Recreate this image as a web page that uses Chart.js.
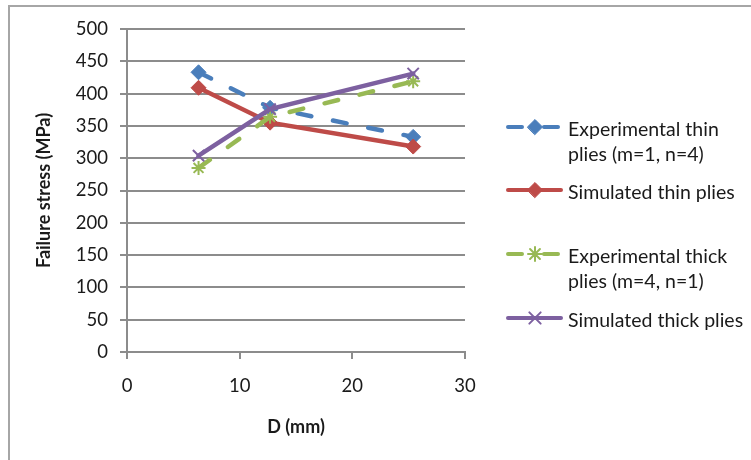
<!DOCTYPE html>
<html>
<head>
<meta charset="utf-8">
<script src="https://cdn.jsdelivr.net/npm/chart.js@4/dist/chart.umd.min.js"></script>
<style>
html, body { margin: 0; padding: 0; background: #fff; overflow: hidden; }
#wrap { position: relative; width: 751px; height: 460px; }
#frame { position: absolute; left: 8px; top: 5px; width: 780px; height: 490px;
         border-top: 2px solid #a6a6a6; border-left: 2px solid #a6a6a6; pointer-events: none; }
canvas { position: absolute; left: 0; top: 0; }
</style>
</head>
<body>
<div id="wrap">
  <canvas id="chart" width="751" height="460"></canvas>
  <div id="frame"></div>
</div>
<script>
// data
const diameters = [6.35, 12.7, 25.4];          // D (mm)
const expThin = [433, 378, 333];                // Experimental thin plies
const simThin = [409, 355, 318];                // Simulated thin plies
const expThick = [285, 364, 419];               // Experimental thick plies
const simThick = [304, 376, 431];               // Simulated thick plies
const seriesNames = [
    ['Experimental thin', 'plies (m=1, n=4)'],
    ['Simulated thin plies'],
    ['Experimental thick', 'plies (m=4, n=1)'],
    ['Simulated thick plies']
];
const xTitle = 'D (mm)';
const yTitle = 'Failure stress (MPa)';

const FONT = 'Lato, "Open Sans", sans-serif';
const gridGray = '#8c8c8c';

function toPoints(values) {
    return values.map((v, i) => ({ x: diameters[i], y: v }));
}

const datasets = [
    { label: seriesNames[0].join(' '), data: toPoints(expThin), borderColor: '#4A7EBB', backgroundColor: '#4A7EBB',
      borderDash: [14, 22], pointStyle: 'rectRot', pointRadius: 7.5, pointBorderWidth: 1, order: 3 },
    { label: seriesNames[1].join(' '), data: toPoints(simThin), borderColor: '#BE4B48', backgroundColor: '#BE4B48',
      borderDash: [], pointStyle: 'rectRot', pointRadius: 7.5, pointBorderWidth: 1, order: 2 },
    { label: seriesNames[2].join(' '), data: toPoints(expThick), borderColor: '#98B954', backgroundColor: '#98B954',
      borderDash: [14, 22], pointStyle: 'star', pointRadius: 7, pointBorderWidth: 2, order: 1 },
    { label: seriesNames[3].join(' '), data: toPoints(simThick), borderColor: '#7D60A0', backgroundColor: '#7D60A0',
      borderDash: [], pointStyle: 'crossRot', pointRadius: 8, pointBorderWidth: 2, order: 0 }
];
datasets.forEach(d => {
    d.borderWidth = 4.5;
    d.borderCapStyle = 'round';
    d.pointBorderColor = d.borderColor;
    d.pointBackgroundColor = d.backgroundColor;
    d.tension = 0;
});

// legend drawn by hand, Excel style (wrapped text on the right)
const sideLegend = {
    id: 'sideLegend',
    afterDraw(chart) {
        const ctx = chart.ctx;
        const rows = [127, 190, 254, 318];
        ctx.save();
        chart.data.datasets.forEach((ds, i) => {
            const y = rows[i];
            ctx.strokeStyle = ds.borderColor;
            ctx.lineWidth = 4;
            ctx.lineCap = 'round';
            ctx.setLineDash(ds.borderDash);
            ctx.beginPath();
            ctx.moveTo(508, y);
            ctx.lineTo(561, y);
            ctx.stroke();
            ctx.setLineDash([]);
            ctx.fillStyle = ds.backgroundColor;
            ctx.lineWidth = ds.pointBorderWidth;
            Chart.helpers.drawPoint(ctx, {
                pointStyle: ds.pointStyle, radius: ds.pointRadius, rotation: 0, borderWidth: ds.pointBorderWidth
            }, 535, y);
            ctx.fillStyle = '#1a1a1a';
            ctx.font = '19.5px ' + FONT;
            ctx.textBaseline = 'middle';
            ctx.textAlign = 'left';
            seriesNames[i].forEach((line, k) => {
                ctx.fillText(line, 568, y + 3 + k * 25);
            });
        });
        ctx.restore();
    }
};

new Chart(document.getElementById('chart'), {
    type: 'line',
    data: { datasets: datasets },
    options: {
        responsive: false,
        animation: false,
        devicePixelRatio: 1,
        layout: { padding: { left: 0, top: 29, right: 286, bottom: 0 } },
        plugins: { legend: { display: false }, tooltip: { enabled: false } },
        scales: {
            x: {
                type: 'linear', min: 0, max: 30,
                afterFit: s => { s.height = 108; },
                ticks: { stepSize: 10, padding: 16, color: '#1a1a1a', font: { family: FONT, size: 18.5 } },
                grid: { drawOnChartArea: false, color: gridGray, lineWidth: 2, tickLength: 7 },
                border: { color: gridGray, width: 2 },
                title: { display: true, text: xTitle, color: '#1a1a1a', padding: { top: 0, bottom: 22 },
                         font: { family: FONT, size: 18, weight: 'bold' } }
            },
            y: {
                min: 0, max: 500,
                afterFit: s => { s.width = 127; },
                ticks: { stepSize: 50, padding: 12, color: '#1a1a1a', font: { family: FONT, size: 18.5 } },
                grid: { color: gridGray, lineWidth: 2, tickLength: 7 },
                border: { color: gridGray, width: 2 },
                title: { display: true, text: yTitle, color: '#1a1a1a', padding: { top: 33, bottom: 0 },
                         font: { family: FONT, size: 18, weight: 'bold' } }
            }
        }
    },
    plugins: [sideLegend]
});
</script>
</body>
</html>
